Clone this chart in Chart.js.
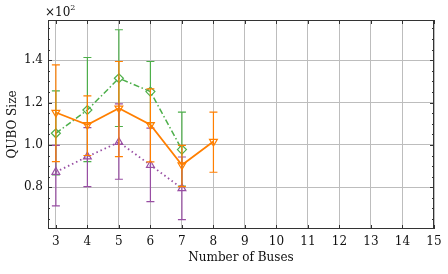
<!DOCTYPE html>
<html>
<head>
<meta charset="utf-8">
<script src="https://cdn.jsdelivr.net/npm/chart.js@4.4.1/dist/chart.umd.min.js"></script>
<style>
  html, body { margin: 0; padding: 0; background: #fff; }
  #wrap { width: 448px; height: 274px; }
</style>
</head>
<body>
<div id="wrap"><canvas id="chart" width="448" height="274"></canvas></div>
<script>
/* ── DATA (values in units of 10^2) ── */
const BUSES = [3, 4, 5, 6, 7, 8];

const ORANGE_Y  = [1.153, 1.095, 1.173, 1.095, 0.905, 1.016];
const ORANGE_LO = [0.921, 0.950, 0.945, 0.920, 0.803, 0.871];
const ORANGE_HI = [1.378, 1.232, 1.394, 1.265, 0.998, 1.155];

const GREEN_Y  = [1.055, 1.165, 1.315, 1.252, 0.978];
const GREEN_LO = [0.858, 0.921, 1.087, 1.105, 0.806];
const GREEN_HI = [1.255, 1.413, 1.544, 1.394, 1.155];

const PURPLE_Y  = [0.872, 0.945, 1.013, 0.905, 0.795];
const PURPLE_LO = [0.712, 0.803, 0.838, 0.732, 0.647];
const PURPLE_HI = [0.998, 1.082, 1.194, 1.079, 0.943];

const X_TICKS = [3, 4, 5, 6, 7, 8, 9, 10, 11, 12, 13, 14, 15];
const Y_TICKS = [0.8, 1.0, 1.2, 1.4];
const Y_MINOR = [0.65, 0.7, 0.75, 0.85, 0.9, 0.95, 1.05, 1.1, 1.15, 1.25, 1.3, 1.35, 1.45, 1.5, 1.55];

/* ── STYLE ── */
const FONT = "'DejaVu Serif', serif";
const C_ORANGE = '#ff7f00';
const C_GREEN = '#4daf4a';
const C_PURPLE = '#984ea3';

function pts(ys) {
  return ys.map((y, i) => ({ x: BUSES[i], y: y }));
}

/* ── ERROR BARS, drawn under each dataset's own line ── */
const errorBars = {
  id: 'errorBars',
  beforeDatasetDraw(chart, args) {
    const ds = chart.data.datasets[args.index];
    if (!ds.lo) return;
    const { ctx, scales: { x, y } } = chart;
    ctx.save();
    ctx.strokeStyle = ds.borderColor;
    ctx.lineWidth = 1.2;
    ctx.setLineDash([]);
    ds.data.forEach((p, i) => {
      const px = x.getPixelForValue(p.x);
      const top = y.getPixelForValue(ds.hi[i]);
      const bot = y.getPixelForValue(ds.lo[i]);
      ctx.beginPath();
      ctx.moveTo(px, top); ctx.lineTo(px, bot);
      ctx.moveTo(px - 4, top); ctx.lineTo(px + 4, top);
      ctx.moveTo(px - 4, bot); ctx.lineTo(px + 4, bot);
      ctx.stroke();
    });
    ctx.restore();
  }
};

/* ── FRAME, INWARD TICKS, ×10^2 ── */
const frame = {
  id: 'frame',
  afterDraw(chart) {
    const { ctx, chartArea: a, scales: { x, y } } = chart;
    ctx.save();
    ctx.strokeStyle = '#333';
    ctx.lineWidth = 1;
    ctx.strokeRect(a.left + 0.5, a.top + 0.5, a.right - a.left - 1, a.bottom - a.top - 1);
    ctx.beginPath();
    X_TICKS.forEach(v => {
      const px = Math.round(x.getPixelForValue(v)) + 0.5;
      ctx.moveTo(px, a.bottom); ctx.lineTo(px, a.bottom - 4);
      ctx.moveTo(px, a.top); ctx.lineTo(px, a.top + 4);
    });
    Y_TICKS.forEach(v => {
      const py = Math.round(y.getPixelForValue(v)) + 0.5;
      ctx.moveTo(a.left, py); ctx.lineTo(a.left + 4, py);
      ctx.moveTo(a.right, py); ctx.lineTo(a.right - 4, py);
    });
    Y_MINOR.forEach(v => {
      const py = Math.round(y.getPixelForValue(v)) + 0.5;
      ctx.moveTo(a.left, py); ctx.lineTo(a.left + 2, py);
      ctx.moveTo(a.right, py); ctx.lineTo(a.right - 2, py);
    });
    ctx.stroke();

    ctx.fillStyle = '#111';
    ctx.textBaseline = 'alphabetic';
    ctx.textAlign = 'left';
    ctx.font = "12px " + FONT;
    ctx.fillText('×10', a.left - 3, a.top - 4);
    const w = ctx.measureText('×10').width;
    ctx.font = "8px " + FONT;
    ctx.fillText('2', a.left - 3 + w, a.top - 10);
    ctx.restore();
  }
};

/* ── CHART ── */
new Chart(document.getElementById('chart'), {
  type: 'line',
  data: {
    datasets: [
      {
        label: 'orange',
        data: pts(ORANGE_Y), lo: ORANGE_LO, hi: ORANGE_HI,
        borderColor: C_ORANGE, backgroundColor: 'rgba(0,0,0,0)',
        borderWidth: 1.8, pointStyle: 'triangle', rotation: 180,
        pointRadius: 4.5, pointBorderWidth: 1.2, order: 1
      },
      {
        label: 'purple',
        data: pts(PURPLE_Y), lo: PURPLE_LO, hi: PURPLE_HI,
        borderColor: C_PURPLE, backgroundColor: 'rgba(0,0,0,0)',
        borderWidth: 1.8, borderDash: [1.5, 3],
        pointStyle: 'triangle', pointRadius: 4.5, pointBorderWidth: 1.2, order: 2
      },
      {
        label: 'green',
        data: pts(GREEN_Y), lo: GREEN_LO, hi: GREEN_HI,
        borderColor: C_GREEN, backgroundColor: 'rgba(0,0,0,0)',
        borderWidth: 1.5, borderDash: [6, 2.5, 1.5, 2.5],
        pointStyle: 'rectRot', pointRadius: 4.5, pointBorderWidth: 1.2, order: 3
      }
    ]
  },
  options: {
    responsive: false,
    animation: false,
    layout: { padding: { left: 0, right: 14, top: 20, bottom: 0 } },
    plugins: { legend: { display: false }, tooltip: { enabled: false } },
    elements: { line: { tension: 0 } },
    scales: {
      x: {
        type: 'linear', min: 2.75, max: 15,
        afterBuildTicks: s => { s.ticks = X_TICKS.map(v => ({ value: v })); },
        afterFit: s => { s.height = 45; },
        grid: { color: '#bdbdbd', lineWidth: 1, drawTicks: false },
        border: { display: false },
        ticks: { padding: 6, color: '#111', font: { family: FONT, size: 12 }, maxRotation: 0 },
        title: { display: true, text: 'Number of Buses', color: '#111',
                 font: { family: FONT, size: 12 }, padding: { top: 0, bottom: 9 } }
      },
      y: {
        type: 'linear', min: 0.603, max: 1.59,
        afterBuildTicks: s => { s.ticks = Y_TICKS.map(v => ({ value: v })); },
        afterFit: s => { s.width = 48; },
        grid: { color: '#bdbdbd', lineWidth: 1, drawTicks: false },
        border: { display: false },
        ticks: { padding: 5, color: '#111', font: { family: FONT, size: 12 },
                 callback: v => v.toFixed(1) },
        title: { display: true, text: 'QUBO Size', color: '#111',
                 font: { family: FONT, size: 12 }, padding: { top: 6, bottom: 0 } }
      }
    }
  },
  plugins: [errorBars, frame]
});
</script>
</body>
</html>
